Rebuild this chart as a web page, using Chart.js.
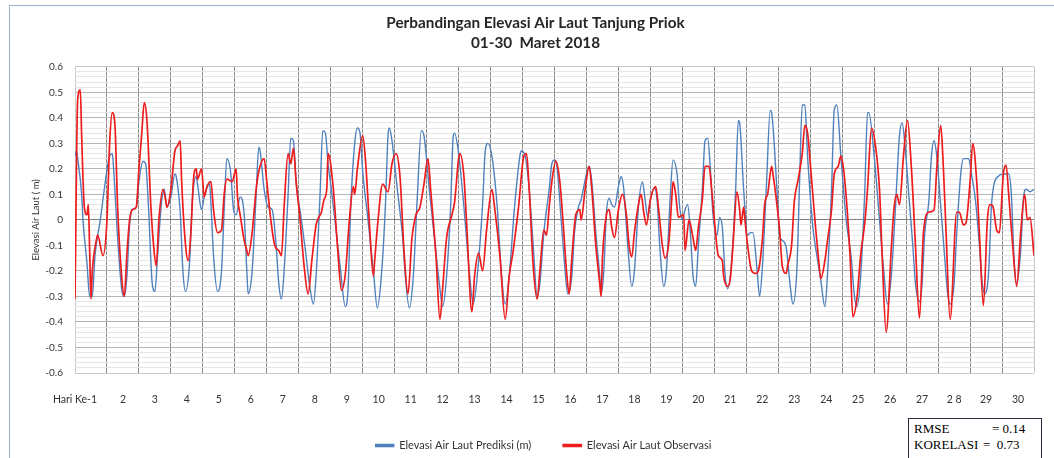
<!DOCTYPE html>
<html lang="id">
<head>
<meta charset="UTF-8" />
<title>Perbandingan Elevasi Air Laut Tanjung Priok</title>
<script src="https://cdn.jsdelivr.net/npm/chart.js"></script>
<style>
    html, body { margin: 0; padding: 0; background: #fff; }
    #wrap { position: relative; width: 1054px; height: 458px; overflow: hidden; }
    #frame {
        position: absolute; left: 9px; top: 5px; width: 1060px; height: 470px;
        border: 1px solid #9fb0cc; box-sizing: border-box; pointer-events: none;
    }
    #stats {
        position: absolute; left: 908px; top: 418px; width: 134px; height: 50px;
        border: 1px solid #2b2b3b; background: #fff; box-sizing: border-box;
        padding: 2px 0 0 5px; font: 13px "Liberation Serif", serif; color: #000; line-height: 16px;
        white-space: nowrap;
    }
    #stats span { display: inline-block; }
</style>
</head>
<body>
<div id="wrap">
    <canvas id="tideChart" width="1054" height="458"></canvas>
    <div id="frame"></div>
    <div id="stats">
        <div><span style="width:78px">RMSE</span>= 0.14</div>
        <div><span style="width:69px">KORELASI</span>=&nbsp; 0.73</div>
    </div>
</div>

<script>
    // x axis is the hour of March 2018 (0 = start of day 1); day labels sit mid-day
    const dayLabels = ['Hari Ke-1', '2', '3', '4', '5', '6', '7', '8', '9', '10',
        '11', '12', '13', '14', '15', '16', '17', '18', '19', '20',
        '21', '22', '23', '24', '25', '26', '27', '2 8', '29', '30'];

    // predicted sea level (m)
    const predHours = [0, 1, 2, 5, 6, 9, 11, 13, 15, 19, 22, 26, 28, 29, 32, 35, 37, 39, 41, 43,
        46, 48, 51, 53, 55, 58, 60, 62, 65, 67, 69, 72, 75, 76, 79, 81, 83, 86, 88, 91,
        92, 95, 97, 101, 102, 104, 107, 110, 112, 114, 117, 119, 121, 124, 127, 129, 130, 133, 136, 138,
        139, 142, 145, 148, 151, 153, 155, 157, 160, 162, 164, 166, 170, 173, 176, 179, 181, 184, 186, 188,
        190, 192, 196, 199, 203, 205, 207, 210, 212, 214, 216, 220, 224, 227, 230, 233, 235, 236, 238, 242,
        246, 248, 251, 254, 257, 260, 262, 266, 270, 274, 276, 279, 282, 284, 285, 288, 292, 296, 299, 302,
        306, 308, 310, 313, 317, 320, 323, 326, 330, 334, 335, 338, 341, 344, 347, 349, 352, 356, 358, 360,
        362, 365, 368, 370, 373, 375, 378, 380, 384, 386, 388, 391, 394, 395, 397, 399, 401, 403, 405, 408,
        410, 412, 415, 418, 420, 423, 426, 428, 430, 432, 435, 437, 439, 442, 444, 447, 449, 452, 454, 456,
        458, 460, 462, 464, 466, 468, 471, 473, 475, 477, 479, 482, 484, 486, 488, 490, 493, 496, 498, 499,
        502, 505, 507, 509, 512, 514, 516, 519, 522, 523, 527, 529, 531, 534, 537, 539, 542, 544, 546, 548,
        550, 554, 557, 560, 563, 565, 568, 570, 572, 575, 579, 583, 585, 587, 590, 593, 595, 596, 600, 604,
        607, 610, 613, 616, 619, 621, 623, 626, 629, 631, 634, 636, 638, 641, 643, 645, 647, 650, 653, 655,
        657, 660, 662, 665, 667, 671, 673, 676, 679, 681, 683, 686, 688, 690, 693, 697, 701, 703, 705, 707,
        710, 712, 714, 717, 720];
    const predLevels = [0.25, 0.27, 0.24, 0.10, 0.0, -0.17, -0.30, -0.30, -0.14, 0.0, 0.12, 0.25, 0.26, 0.2, -0.07, -0.27, -0.30, -0.22, -0.02, 0.04,
        0.05, 0.15, 0.23, 0.22, 0.07, -0.25, -0.28, -0.14, 0.07, 0.12, 0.05, 0.09, 0.18, 0.17, 0.03, -0.2, -0.28, -0.17, 0.07, 0.17,
        0.14, 0.04, 0.09, 0.14, 0.07, -0.14, -0.28, -0.2, 0.04, 0.24, 0.18, 0.04, 0.02, 0.09, 0.02, -0.2, -0.29, -0.2, 0.1, 0.285,
        0.27, 0.12, 0.05, 0.04, -0.1, -0.25, -0.31, -0.2, 0.1, 0.32, 0.31, 0.15, 0.0, -0.12, -0.25, -0.33, -0.22, 0.1, 0.35, 0.34,
        0.22, 0.14, -0.04, -0.18, -0.34, -0.27, 0.05, 0.3, 0.36, 0.34, 0.19, 0.0, -0.2, -0.345, -0.22, 0.05, 0.33, 0.36, 0.31, 0.12,
        -0.07, -0.22, -0.345, -0.22, 0.09, 0.35, 0.33, 0.12, -0.08, -0.27, -0.34, -0.22, 0.05, 0.33, 0.34, 0.26, 0.05, -0.2, -0.33, -0.22,
        0.06, 0.27, 0.30, 0.25, 0.05, -0.2, -0.33, -0.22, 0.05, 0.25, 0.27, 0.25, 0.12, -0.1, -0.30, -0.25, -0.05, 0.12, 0.22, 0.235,
        0.2, 0.0, -0.2, -0.29, -0.22, -0.05, 0.05, 0.08, 0.18, 0.21, 0.15, -0.05, -0.22, -0.29, -0.2, 0.03, 0.085, 0.06, 0.05, 0.13,
        0.17, 0.12, -0.1, -0.26, -0.2, 0.05, 0.15, 0.08, 0.01, 0.08, 0.125, 0.08, -0.1, -0.26, -0.2, 0.1, 0.235, 0.18, 0.05, 0.0,
        0.04, 0.06, -0.05, -0.22, -0.26, -0.1, 0.12, 0.31, 0.32, 0.2, 0.02, -0.06, 0.01, -0.03, -0.21, -0.27, -0.16, 0.12, 0.39, 0.38,
        0.12, -0.06, -0.05, -0.05, -0.19, -0.30, -0.19, 0.12, 0.43, 0.42, 0.12, -0.06, -0.08, -0.11, -0.26, -0.33, -0.19, 0.15, 0.45, 0.45,
        0.25, -0.03, -0.14, -0.24, -0.34, -0.21, 0.12, 0.43, 0.45, 0.25, 0.0, -0.16, -0.29, -0.34, -0.21, 0.12, 0.42, 0.42, 0.25, 0.0,
        -0.19, -0.33, -0.21, 0.05, 0.33, 0.38, 0.3, 0.1, -0.1, -0.25, -0.32, -0.25, -0.05, 0.07, 0.25, 0.31, 0.25, 0.05, -0.15, -0.28,
        -0.33, -0.25, -0.05, 0.18, 0.24, 0.24, 0.18, 0.08, -0.1, -0.24, -0.29, -0.2, 0.05, 0.14, 0.17, 0.18, 0.18, 0.1, -0.15, -0.25,
        -0.12, 0.08, 0.12, 0.11, 0.12];

    // observed sea level (m)
    const obsHours = [0, 2, 4, 5, 7, 9, 10, 11, 12, 13, 16, 17, 21, 24, 26, 28, 30, 32, 35, 37,
        39, 41, 43, 46, 48, 50, 52, 54, 57, 59, 61, 63, 66, 68, 69, 72, 75, 77, 79, 80,
        83, 85, 87, 89, 91, 92, 95, 97, 99, 102, 104, 107, 110, 112, 114, 118, 121, 122, 124, 127,
        129, 130, 133, 136, 138, 142, 144, 147, 150, 153, 155, 157, 160, 162, 164, 166, 169, 172, 175, 178,
        181, 183, 185, 187, 189, 190, 194, 197, 200, 203, 206, 209, 210, 212, 216, 218, 221, 224, 225, 227,
        231, 235, 238, 241, 244, 247, 250, 253, 256, 259, 262, 265, 267, 271, 274, 276, 279, 283, 285, 288,
        289, 292, 294, 298, 300, 303, 306, 309, 313, 315, 319, 323, 326, 329, 333, 337, 339, 341, 344, 347,
        349, 352, 354, 356, 358, 361, 364, 367, 369, 371, 373, 376, 379, 380, 383, 386, 388, 391, 394, 395,
        396, 399, 401, 403, 405, 408, 411, 414, 416, 418, 420, 423, 425, 427, 429, 432, 436, 438, 441, 443,
        446, 448, 449, 451, 453, 457, 458, 461, 464, 466, 468, 471, 473, 476, 478, 480, 483, 486, 487, 490,
        492, 494, 497, 499, 500, 502, 503, 505, 508, 511, 513, 516, 518, 520, 523, 524, 527, 529, 531, 534,
        535, 538, 540, 543, 546, 548, 550, 553, 556, 558, 560, 563, 565, 568, 570, 573, 575, 577, 580, 582,
        584, 587, 590, 593, 595, 598, 601, 604, 606, 609, 613, 615, 617, 619, 622, 625, 628, 631, 634, 637,
        641, 645, 647, 650, 652, 654, 657, 662, 664, 667, 669, 672, 674, 677, 679, 682, 685, 687, 689, 692,
        694, 697, 699, 701, 704, 707, 710, 713, 715, 717, 720];
    const obsLevels = [-0.31, 0.47, 0.51, 0.33, 0.05, 0.02, 0.06, -0.12, -0.31, -0.2, -0.08, -0.06, -0.14, 0.0, 0.3, 0.42, 0.37, 0.05, -0.22, -0.3,
        -0.13, 0.0, 0.04, 0.05, 0.2, 0.33, 0.46, 0.39, 0.05, -0.1, -0.18, 0.0, 0.12, 0.08, 0.05, 0.12, 0.27, 0.29, 0.31, 0.16,
        -0.1, -0.16, -0.05, 0.16, 0.2, 0.16, 0.2, 0.09, 0.13, 0.15, 0.04, -0.05, -0.04, 0.1, 0.16, 0.15, 0.2, 0.09, 0.02, -0.08,
        -0.12, -0.14, -0.05, 0.12, 0.19, 0.24, 0.15, 0.0, -0.1, -0.12, -0.14, 0.05, 0.26, 0.22, 0.28, 0.15, 0.0, -0.18, -0.29, -0.15,
        -0.02, 0.01, 0.03, 0.08, 0.12, 0.26, 0.12, -0.1, -0.275, -0.21, 0.0, 0.13, 0.1, 0.2, 0.33, 0.24, -0.01, -0.22, -0.16, -0.03,
        0.14, 0.11, 0.22, 0.26, 0.17, -0.12, -0.29, -0.07, 0.02, 0.05, 0.14, 0.24, 0.12, -0.14, -0.39, -0.27, -0.07, 0.02, 0.07, 0.24,
        0.26, 0.17, -0.01, -0.36, -0.22, -0.13, -0.2, -0.04, 0.12, 0.05, -0.14, -0.39, -0.22, -0.12, 0.05, 0.25, 0.26, 0.12, -0.18, -0.31,
        -0.2, -0.04, -0.06, 0.05, 0.15, 0.23, 0.15, -0.05, -0.2, -0.29, -0.15, 0.02, 0.04, 0.0, 0.12, 0.21, 0.12, -0.1, -0.25, -0.30,
        -0.15, 0.02, 0.04, -0.03, -0.07, 0.04, 0.10, 0.02, -0.1, -0.145, -0.05, 0.06, 0.10, 0.03, -0.02, 0.08, 0.13, 0.05, -0.1, -0.15,
        -0.08, 0.08, 0.15, 0.1, 0.01, 0.02, -0.12, 0.0, -0.07, -0.12, -0.03, 0.08, 0.21, 0.21, 0.12, 0.0, -0.14, -0.16, -0.22, -0.26,
        -0.23, -0.1, 0.11, 0.04, -0.02, 0.05, 0.0, -0.1, -0.2, -0.21, -0.2, -0.08, 0.07, 0.1, 0.21, 0.18, 0.06, -0.04, -0.18, -0.21,
        -0.18, -0.1, 0.07, 0.16, 0.26, 0.37, 0.34, 0.16, -0.03, -0.14, -0.23, -0.16, -0.08, 0.04, 0.18, 0.21, 0.25, 0.2, 0.02, -0.15,
        -0.38, -0.31, -0.13, -0.01, 0.12, 0.36, 0.29, 0.12, -0.14, -0.44, -0.1, 0.05, 0.1, 0.06, 0.25, 0.39, 0.2, -0.1, -0.385, -0.05,
        0.03, 0.04, 0.2, 0.37, 0.2, -0.05, -0.39, 0.03, 0.03, -0.02, -0.01, 0.15, 0.30, 0.15, -0.05, -0.335, 0.0, 0.06, 0.055, -0.04,
        -0.05, 0.18, 0.215, 0.1, -0.1, -0.26, -0.05, 0.10, 0.0, 0.01, -0.14];

    const pred = predHours.map((h, i) => ({ x: h, y: predLevels[i] }));
    const obs = obsHours.map((h, i) => ({ x: h, y: obsLevels[i] }));

    const baseFont = 'Lato';

    // title and legend in the original are not centred on the canvas
    const nudgeBlocks = {
        id: 'nudgeBlocks',
        afterLayout(chart) {
            if (chart.titleBlock) chart.titleBlock.left += 30;
            if (chart.legend) chart.legend.left -= 22;
        }
    };

    new Chart(document.getElementById('tideChart'), {
        type: 'line',
        data: {
            datasets: [{
                label: 'Elevasi Air Laut Prediksi (m)',
                data: pred,
                borderColor: '#4f81bd',
                backgroundColor: '#4f81bd',
                borderWidth: 1.4,
                pointRadius: 0,
                cubicInterpolationMode: 'monotone',
                order: 1
            }, {
                label: 'Elevasi Air Laut Observasi',
                data: obs,
                borderColor: '#ee1c1c',
                backgroundColor: '#ee1c1c',
                borderWidth: 1.7,
                pointRadius: 0,
                cubicInterpolationMode: 'monotone',
                order: 0
            }]
        },
        options: {
            responsive: false,
            animation: false,
            layout: { padding: { left: 0, right: 13, top: 0, bottom: -3 } },
            plugins: {
                title: {
                    display: true,
                    text: ['Perbandingan Elevasi Air Laut Tanjung Priok', '01-30  Maret 2018'],
                    color: '#262626',
                    font: { family: baseFont, size: 15.3, weight: 'bold', lineHeight: 1.3 },
                    padding: { top: 13, bottom: 14 }
                },
                legend: {
                    position: 'bottom',
                    fullSize: false,
                    labels: {
                        boxWidth: 18,
                        boxHeight: 2,
                        padding: 32,
                        color: '#333',
                        font: { family: baseFont, size: 11, lineHeight: 1.0 },
                        sort: (a, b) => a.datasetIndex - b.datasetIndex
                    }
                },
                tooltip: { enabled: false }
            },
            scales: {
                x: {
                    type: 'linear',
                    min: 0,
                    max: 720,
                    afterBuildTicks: scale => {
                        const t = [{ value: 0 }];
                        for (let d = 1; d <= 30; d++) {
                            if (d < 30) t.push({ value: d * 24 + 12 });
                            t.push({ value: d * 24 });
                        }
                        scale.ticks = t.sort((a, b) => a.value - b.value);
                    },
                    afterFit: scale => { scale.height = 35; },
                    border: { display: false },
                    grid: {
                        drawTicks: false,
                        lineWidth: 1,
                        color: ctx => {
                            const v = ctx.tick.value;
                            if (v % 24 !== 0) return 'rgba(0,0,0,0)';
                            if (v === 0 || v === 720) return '#c8c8c8';
                            return '#8a8a8a';
                        }
                    },
                    ticks: {
                        autoSkip: false,
                        maxRotation: 0,
                        padding: 20,
                        color: '#333',
                        font: { family: baseFont, size: 10.5 },
                        callback: v => {
                            if (v === 0) return dayLabels[0];
                            if (v % 24 === 12) return dayLabels[(v - 12) / 24];
                            return '';
                        }
                    }
                },
                y: {
                    min: -0.6,
                    max: 0.6,
                    afterBuildTicks: scale => {
                        const t = [];
                        for (let i = -30; i <= 30; i++) t.push({ value: i / 50 });
                        scale.ticks = t;
                    },
                    afterFit: scale => { scale.width = 75; },
                    border: { display: false },
                    grid: {
                        drawTicks: false,
                        lineWidth: 1,
                        color: ctx => {
                            const n = Math.round(ctx.tick.value * 50);
                            if (n === 0) return '#808080';
                            if (Math.abs(n) === 30) return '#c8c8c8';
                            if (n % 5 === 0) return '#b5b5b5';
                            return '#e6e6e6';
                        }
                    },
                    ticks: {
                        autoSkip: false,
                        padding: 12,
                        color: '#333',
                        font: { family: baseFont, size: 10 },
                        callback: v => {
                            const n = Math.round(v * 50);
                            if (n % 5 !== 0) return '';
                            return String(Math.round(v * 10) / 10);
                        }
                    },
                    title: {
                        display: true,
                        text: 'Elevasi Air Laut ( m)',
                        color: '#333',
                        font: { family: baseFont, size: 9.5 },
                        padding: { top: 30, bottom: 0 }
                    }
                }
            }
        },
        plugins: [nudgeBlocks]
    });
</script>
</body>
</html>
